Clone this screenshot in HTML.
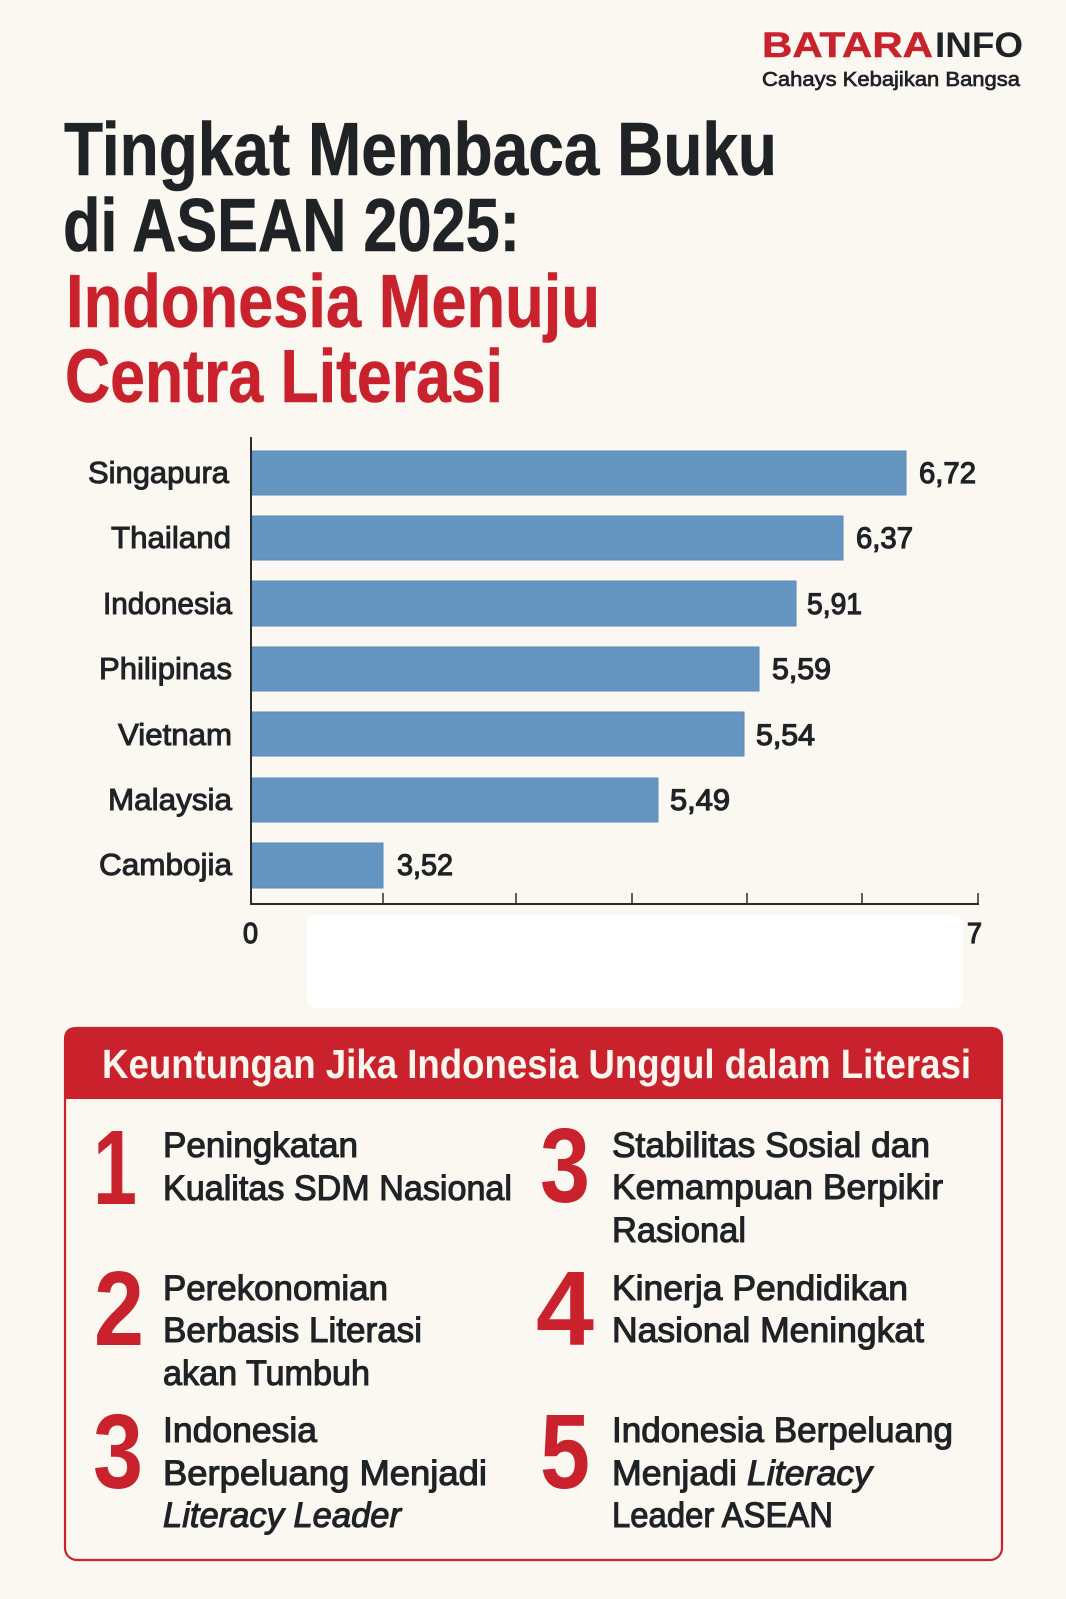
<!DOCTYPE html>
<html>
<head>
<meta charset="utf-8">
<style>
  html,body{margin:0;padding:0;background:#fbf8f1;}
  svg{display:block;}
  text{font-family:"Liberation Sans", Arial, sans-serif;}
</style>
</head>
<body>
<svg width="1066" height="1599" viewBox="0 0 1066 1599" xmlns="http://www.w3.org/2000/svg">
  <rect x="0" y="0" width="1066" height="1599" fill="#fbf8f1"/>

  <!-- Logo -->
  <text x="762" y="57" font-size="35" font-weight="bold" fill="#c9222d" stroke="#c9222d" stroke-width="0.5" textLength="171" lengthAdjust="spacingAndGlyphs">BATARA</text>
  <text x="935" y="57" font-size="35" font-weight="bold" fill="#1f2326" textLength="88" lengthAdjust="spacingAndGlyphs">INFO</text>
  <text x="762" y="86" font-size="20" fill="#1f2326" stroke="#1f2326" stroke-width="0.7" textLength="258" lengthAdjust="spacingAndGlyphs">Cahays Kebajikan Bangsa</text>

  <!-- Title -->
  <g font-size="75" font-weight="bold">
    <text x="64" y="175" fill="#1f2326" stroke="#1f2326" stroke-width="0.6" textLength="713" lengthAdjust="spacingAndGlyphs">Tingkat Membaca Buku</text>
    <text x="63" y="251" fill="#1f2326" stroke="#1f2326" stroke-width="0.6" textLength="457" lengthAdjust="spacingAndGlyphs">di ASEAN 2025:</text>
    <text x="66" y="327" fill="#c9222d" stroke="#c9222d" stroke-width="0.6" textLength="534" lengthAdjust="spacingAndGlyphs">Indonesia Menuju</text>
    <text x="65" y="402" fill="#c9222d" stroke="#c9222d" stroke-width="0.6" textLength="438" lengthAdjust="spacingAndGlyphs">Centra Literasi</text>
  </g>

  <!-- Bars -->
  <g fill="#6596c1" stroke="#5a8ab5" stroke-width="1">
    <rect x="252" y="451" width="654" height="44"/>
    <rect x="252" y="516" width="591" height="44"/>
    <rect x="252" y="581" width="544" height="45"/>
    <rect x="252" y="647" width="507" height="44"/>
    <rect x="252" y="712" width="492" height="44"/>
    <rect x="252" y="778" width="406" height="44"/>
    <rect x="252" y="843" width="131" height="45"/>
  </g>

  <!-- Country labels -->
  <g font-size="31" fill="#1f2326" stroke="#1f2326" stroke-width="1">
    <text x="88" y="483" textLength="141" lengthAdjust="spacingAndGlyphs">Singapura</text>
    <text x="111" y="548" textLength="120" lengthAdjust="spacingAndGlyphs">Thailand</text>
    <text x="103" y="614" textLength="129" lengthAdjust="spacingAndGlyphs">Indonesia</text>
    <text x="99" y="679" textLength="133" lengthAdjust="spacingAndGlyphs">Philipinas</text>
    <text x="118" y="745" textLength="114" lengthAdjust="spacingAndGlyphs">Vietnam</text>
    <text x="108" y="810" textLength="124" lengthAdjust="spacingAndGlyphs">Malaysia</text>
    <text x="99" y="875" textLength="133" lengthAdjust="spacingAndGlyphs">Cambojia</text>
  </g>

  <!-- Value labels -->
  <g font-size="30" fill="#1f2326" stroke="#1f2326" stroke-width="1.2">
    <text x="919" y="483" textLength="57" lengthAdjust="spacingAndGlyphs">6,72</text>
    <text x="856" y="548" textLength="57" lengthAdjust="spacingAndGlyphs">6,37</text>
    <text x="807" y="614" textLength="55" lengthAdjust="spacingAndGlyphs">5,91</text>
    <text x="772" y="679" textLength="59" lengthAdjust="spacingAndGlyphs">5,59</text>
    <text x="756" y="745" textLength="59" lengthAdjust="spacingAndGlyphs">5,54</text>
    <text x="670" y="810" textLength="60" lengthAdjust="spacingAndGlyphs">5,49</text>
    <text x="397" y="875" textLength="56" lengthAdjust="spacingAndGlyphs">3,52</text>
  </g>

  <!-- Axes -->
  <line x1="251" y1="437" x2="251" y2="905" stroke="#2a2c2e" stroke-width="2"/>
  <line x1="250" y1="904" x2="979" y2="904" stroke="#2a2c2e" stroke-width="2"/>
  <g stroke="#2a2c2e" stroke-width="1.5">
    <line x1="383" y1="893" x2="383" y2="904"/>
    <line x1="516" y1="893" x2="516" y2="904"/>
    <line x1="632" y1="893" x2="632" y2="904"/>
    <line x1="747" y1="893" x2="747" y2="904"/>
    <line x1="862" y1="893" x2="862" y2="904"/>
    <line x1="978" y1="893" x2="978" y2="904"/>
  </g>
  <g font-size="29" fill="#1f2326" stroke="#1f2326" stroke-width="1.3">
    <text x="243" y="943" textLength="15" lengthAdjust="spacingAndGlyphs">0</text>
    <text x="967" y="943" textLength="15" lengthAdjust="spacingAndGlyphs">7</text>
  </g>

  <!-- White panel -->
  <rect x="307" y="915" width="656" height="93" rx="9" fill="#ffffff"/>

  <!-- Benefits box -->
  <rect x="65" y="1028" width="937" height="532" rx="12" fill="#fbf8f1" stroke="#c9222d" stroke-width="2.2"/>
  <path d="M64,1099 L64,1039 Q64,1027 76,1027 L991,1027 Q1003,1027 1003,1039 L1003,1099 Z" fill="#c9222d"/>
  <text x="102" y="1078" font-size="41" font-weight="bold" fill="#fdf6ee" textLength="869" lengthAdjust="spacingAndGlyphs">Keuntungan Jika Indonesia Unggul dalam Literasi</text>

  <!-- Numerals -->
  <g font-size="106" font-weight="bold" fill="#c9222d" text-anchor="middle">
    <text x="115" y="1204" textLength="44" lengthAdjust="spacingAndGlyphs">1</text>
    <text x="119" y="1345" textLength="50" lengthAdjust="spacingAndGlyphs">2</text>
    <text x="118" y="1488" textLength="50" lengthAdjust="spacingAndGlyphs">3</text>
    <text x="565" y="1202" textLength="50" lengthAdjust="spacingAndGlyphs">3</text>
    <text x="565" y="1345" textLength="58" lengthAdjust="spacingAndGlyphs">4</text>
    <text x="565" y="1488" textLength="50" lengthAdjust="spacingAndGlyphs">5</text>
  </g>

  <!-- Item text -->
  <g font-size="35" fill="#1f2326" stroke="#1f2326" stroke-width="1.1">
    <text x="163" y="1157" textLength="195" lengthAdjust="spacingAndGlyphs">Peningkatan</text>
    <text x="163" y="1200" textLength="349" lengthAdjust="spacingAndGlyphs">Kualitas SDM Nasional</text>
    <text x="163" y="1300" textLength="225" lengthAdjust="spacingAndGlyphs">Perekonomian</text>
    <text x="163" y="1342" textLength="259" lengthAdjust="spacingAndGlyphs">Berbasis Literasi</text>
    <text x="163" y="1385" textLength="207" lengthAdjust="spacingAndGlyphs">akan Tumbuh</text>
    <text x="163" y="1442" textLength="154" lengthAdjust="spacingAndGlyphs">Indonesia</text>
    <text x="163" y="1485" textLength="324" lengthAdjust="spacingAndGlyphs">Berpeluang Menjadi</text>
    <text x="163" y="1527" font-style="italic" textLength="238" lengthAdjust="spacingAndGlyphs">Literacy Leader</text>

    <text x="612" y="1157" textLength="318" lengthAdjust="spacingAndGlyphs">Stabilitas Sosial dan</text>
    <text x="612" y="1199" textLength="331" lengthAdjust="spacingAndGlyphs">Kemampuan Berpikir</text>
    <text x="612" y="1242" textLength="134" lengthAdjust="spacingAndGlyphs">Rasional</text>
    <text x="612" y="1300" textLength="296" lengthAdjust="spacingAndGlyphs">Kinerja Pendidikan</text>
    <text x="612" y="1342" textLength="312" lengthAdjust="spacingAndGlyphs">Nasional Meningkat</text>
    <text x="612" y="1442" textLength="341" lengthAdjust="spacingAndGlyphs">Indonesia Berpeluang</text>
    <text x="612" y="1485" textLength="125" lengthAdjust="spacingAndGlyphs">Menjadi</text>
    <text x="747" y="1485" font-style="italic" textLength="125" lengthAdjust="spacingAndGlyphs">Literacy</text>
    <text x="612" y="1527" textLength="221" lengthAdjust="spacingAndGlyphs">Leader ASEAN</text>
  </g>
</svg>
</body>
</html>
